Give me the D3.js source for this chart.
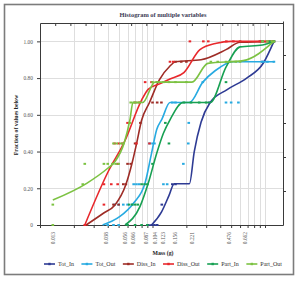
<!DOCTYPE html>
<html>
<head>
<meta charset="utf-8">
<script src="https://cdnjs.cloudflare.com/ajax/libs/d3/7.8.5/d3.min.js"></script>
<style>
  body { margin: 0; background: #fff; }
  text { font-family: 'Liberation Serif', 'DejaVu Serif', serif; }
</style>
</head>
<body>
<div id="chart"></div>
<script>
// -- DATA --

seriesNames = ['Tot_In', 'Tot_Out', 'Diss_In', 'Diss_Out', 'Part_In', 'Part_Out']
massLabels = [0.013, 0.038, 0.056, 0.066, 0.087, 0.104, 0.123, 0.156, 0.221, 0.476, 0.662]
yTicks = [0, 0.2, 0.4, 0.6, 0.8, 1.0]

// smoothed cumulative curves, [mass, fraction]
totInLine = [[0.098,0],[0.12,0.07],[0.14,0.16],[0.156,0.225],[0.19,0.225],[0.213,0.225],[0.235,0.40],[0.27,0.56],[0.325,0.667],[0.457,0.736],[0.687,0.80],[0.967,0.882],[1.2,1.0]]
totOutLine = [[0.036,0],[0.051,0.045],[0.068,0.12],[0.086,0.23],[0.098,0.39],[0.109,0.52],[0.121,0.575],[0.143,0.667],[0.213,0.667],[0.28,0.778],[0.36,0.84],[0.52,0.889],[1.2,0.889]]
dissInLine = [[0.0257,0],[0.0366,0.064],[0.0464,0.109],[0.058,0.22],[0.066,0.34],[0.072,0.44],[0.08,0.57],[0.094,0.667],[0.115,0.79],[0.143,0.866],[0.16,0.889],[0.27,0.9],[0.45,0.955],[0.6,0.995],[1.2,1.0]]
dissOutLine = [[0.025,0],[0.04,0.286],[0.057,0.46],[0.08,0.68],[0.092,0.74],[0.117,0.77],[0.143,0.795],[0.19,0.83],[0.264,0.955],[0.37,0.99],[0.5,1.0],[1.2,1.0]]
partInLine = [[0.057,0],[0.0773,0.1],[0.0916,0.227],[0.109,0.391],[0.125,0.5],[0.143,0.573],[0.187,0.667],[0.326,0.667],[0.45,0.86],[0.6,0.97],[0.95,0.98],[1.2,1.0]]
partOutLine = [[0.013,0.136],[0.026,0.227],[0.04,0.309],[0.0464,0.345],[0.056,0.446],[0.063,0.573],[0.067,0.667],[0.082,0.667],[0.105,0.778],[0.224,0.778],[0.31,0.88],[0.64,0.895],[1.2,1.0]]

// individual observations, [mass, fraction]
totInDots = [[0.092,0],[0.098,0],[0.104,0],[0.11,0],[0.121,0.111],[0.15,0.222],[0.16,0.222],[0.32,0.667],[0.95,0.889],[1.2,1.0]]
totOutDots = [[0.04,0],[0.045,0],[0.05,0],[0.046,0.111],[0.05,0.111],[0.055,0.111],[0.06,0.111],[0.066,0.111],[0.068,0.222],[0.072,0.222],[0.076,0.222],[0.125,0.222],[0.135,0.222],[0.188,0.333],[0.094,0.444],[0.1,0.444],[0.104,0.444],[0.208,0.444],[0.21,0.556],[0.15,0.667],[0.16,0.667],[0.45,0.667],[0.5,0.667],[0.58,0.667],[0.28,0.778],[0.95,0.889],[1.05,0.889],[1.2,0.889]]
dissInDots = [[0.026,0],[0.045,0.111],[0.05,0.111],[0.055,0.222],[0.058,0.222],[0.06,0.333],[0.064,0.333],[0.07,0.444],[0.078,0.556],[0.1,0.667],[0.11,0.667],[0.12,0.667],[0.11,0.778],[0.16,0.889],[0.18,0.889],[0.2,0.889],[0.6,1.0],[0.9,1.0],[1.2,1.0]]
dissOutDots = [[0.025,0],[0.037,0.111],[0.037,0.222],[0.043,0.222],[0.049,0.222],[0.049,0.333],[0.046,0.444],[0.05,0.444],[0.054,0.444],[0.072,0.444],[0.094,0.444],[0.06,0.556],[0.07,0.667],[0.076,0.667],[0.086,0.778],[0.098,0.778],[0.143,0.889],[0.153,0.889],[0.215,1.0],[0.283,1.0],[0.313,1.0],[0.453,1.0],[0.523,1.0]]
partInDots = [[0.06,0],[0.07,0],[0.08,0],[0.09,0],[0.062,0.111],[0.066,0.111],[0.07,0.111],[0.074,0.111],[0.08,0.222],[0.085,0.222],[0.09,0.222],[0.1,0.333],[0.14,0.444],[0.13,0.556],[0.19,0.667],[0.22,0.667],[0.26,0.667],[0.3,0.667],[0.45,0.778],[0.48,0.889],[0.95,1.0],[1.1,1.0],[1.2,1.0]]
partOutDots = [[0.013,0],[0.013,0.111],[0.024,0.222],[0.025,0.333],[0.037,0.333],[0.04,0.333],[0.044,0.333],[0.047,0.333],[0.05,0.333],[0.045,0.444],[0.048,0.444],[0.052,0.444],[0.055,0.444],[0.063,0.556],[0.064,0.667],[0.068,0.667],[0.072,0.667],[0.077,0.667],[0.1,0.778],[0.11,0.778],[0.125,0.778],[0.14,0.778],[0.16,0.778],[0.2,0.778],[0.33,0.889],[0.38,0.889],[0.45,0.889],[0.55,0.889],[0.6,0.889],[0.95,1.0],[1.05,1.0],[1.15,1.0],[1.2,1.0]]

lines = [totInLine, totOutLine, dissInLine, dissOutLine, partInLine, partOutLine]
dots = [totInDots, totOutDots, dissInDots, dissOutDots, partInDots, partOutDots]

// -- GLOBAL --

width = 300
height = 281
margin = {left:40, right:17, top:23, bottom:56}
colors = ['#2e3b94', '#27aae1', '#9e2c26', '#e8282c', '#17a052', '#7cc242']
axisColor = '#3a3a3a'
gridColor = '#dedede'

var svg = d3.select('#chart').append('svg')
  .attr('width', width)
  .attr('height', height)

// outer frame
svg.append('rect')
  .attr('x', 4.5)
  .attr('y', 4.5)
  .attr('width', 289)
  .attr('height', 270)
  .style('fill', 'none')
  .style('stroke', '#7c7c7c')
  .style('stroke-width', '1.6px')

var xMap = d3.scaleLog()
  .domain([0.01, 1.445])
  .range([margin.left, width - margin.right])

var yMap = d3.scaleLinear()
  .domain([0, 1.1])
  .range([height - margin.bottom, margin.top])

// log minor ticks 0.01 .. 1
minorTicks = d3.range(1, 10).map(d => d / 100)
  .concat(d3.range(1, 10).map(d => d / 10), [1])

// -- GRID --
var gGrid = svg.append('g')

gGrid.selectAll('.vgrid')
  .data(minorTicks.slice(1))
  .enter().append('line')
    .attr('x1', d => Math.round(xMap(d)) + 0.5)
    .attr('x2', d => Math.round(xMap(d)) + 0.5)
    .attr('y1', yMap.range()[1])
    .attr('y2', yMap.range()[0])
    .style('stroke', gridColor)
    .style('stroke-width', '1px')

gGrid.selectAll('.hgrid')
  .data(yTicks.slice(1))
  .enter().append('line')
    .attr('x1', xMap.range()[0])
    .attr('x2', xMap.range()[1])
    .attr('y1', d => Math.round(yMap(d)) + 0.5)
    .attr('y2', d => Math.round(yMap(d)) + 0.5)
    .style('stroke', gridColor)
    .style('stroke-width', '1px')

// -- AXES --
var xAxis = d3.axisBottom(xMap)
  .tickValues(minorTicks)
  .tickSize(3)
  .tickSizeOuter(0)
  .tickFormat('')

var xLabelAxis = d3.axisBottom(xMap)
  .tickValues(massLabels)
  .tickSize(0)
  .tickFormat(d3.format('.3f'))

var yAxis = d3.axisLeft(yMap)
  .tickValues(yTicks)
  .tickSize(3)
  .tickSizeOuter(0)
  .tickFormat(d => d === 0 ? '0' : d3.format('.2f')(d))

// secondary axes: ticks only
var topMap = d3.scaleLinear().domain([0, 16]).range(xMap.range())
var rightMap = d3.scaleLinear().domain([0, 6]).range([height - margin.bottom, height - margin.bottom - 6 * 34])

var topAxis = d3.axisTop(topMap)
  .tickValues(d3.range(1, 16))
  .tickSize(-3)
  .tickSizeOuter(0)
  .tickFormat('')

var rightAxis = d3.axisRight(rightMap)
  .tickValues(d3.range(1, 6))
  .tickSize(3)
  .tickSizeOuter(0)
  .tickFormat('')

gX = svg.append('g')
  .attr('transform', 'translate(0,' + yMap(0) + ')')
  .call(xAxis)

gXL = svg.append('g')
  .attr('transform', 'translate(0,' + (yMap(0) + 7) + ')')
  .call(xLabelAxis)
gXL.select('.domain').remove()
gXL.selectAll('text')
  .attr('transform', 'rotate(-90)')
  .attr('x', 0)
  .attr('y', 0)
  .attr('dy', '0.35em')
  .style('text-anchor', 'end')
  .style('font-size', '5.4px')
  .style('fill', '#555')

gY = svg.append('g')
  .attr('transform', 'translate(' + xMap.range()[0] + ',0)')
  .call(yAxis)
gY.selectAll('text')
  .attr('x', -7)
  .style('font-size', '5.4px')
  .style('fill', '#555')

gTop = svg.append('g')
  .attr('transform', 'translate(0,' + yMap.range()[1] + ')')
  .call(topAxis)

gRight = svg.append('g')
  .attr('transform', 'translate(' + xMap.range()[1] + ',0)')
  .call(rightAxis)

svg.selectAll('.domain, .tick line')
  .style('stroke', axisColor)
  .style('stroke-width', '1px')

// -- SERIES --
var line = d3.line()
  .x(d => xMap(d[0]))
  .y(d => yMap(d[1]))
  .curve(d3.curveMonotoneX)

var gSeries = svg.append('g')

seriesNames.forEach(function(name, i) {
  var g = gSeries.append('g')

  g.selectAll('rect')
    .data(dots[i])
    .enter().append('rect')
      .attr('x', d => xMap(d[0]) - 1.3)
      .attr('y', d => yMap(d[1]) - 1)
      .attr('width', 2.6)
      .attr('height', 2)
      .style('fill', colors[i])

  g.append('path')
    .datum(lines[i])
    .attr('d', line)
    .style('fill', 'none')
    .style('stroke', colors[i])
    .style('stroke-width', '1.6px')
})

// -- TEXTS --
svg.append('text')
  .attr('x', 163)
  .attr('y', 17)
  .style('font-weight', '700')
  .style('font-size', '6.4px')
  .style('fill', '#3b3a55')
  .style('text-anchor', 'middle')
  .text('Histogram of multiple variables')

svg.append('text')
  .attr('transform', 'translate(18,125) rotate(-90)')
  .style('font-weight', '700')
  .style('font-size', '5.8px')
  .style('fill', '#222')
  .style('text-anchor', 'middle')
  .text('Fraction of values below')

svg.append('text')
  .attr('x', 163)
  .attr('y', 255)
  .style('font-weight', '700')
  .style('font-size', '5.8px')
  .style('fill', '#222')
  .style('text-anchor', 'middle')
  .text('Mass (g)')

// -- LEGEND --
var gLegend = svg.append('g')
  .attr('transform', 'translate(44,264)')
var xPos = 0
seriesNames.forEach(function(name, i) {
  var item = gLegend.append('g')
    .attr('transform', 'translate(' + xPos + ',0)')
  item.append('line')
    .attr('x1', 0)
    .attr('x2', 11)
    .attr('y1', 0)
    .attr('y2', 0)
    .style('stroke', colors[i])
    .style('stroke-width', '1.6px')
  item.append('rect')
    .attr('x', 4.3)
    .attr('y', -1.2)
    .attr('width', 2.4)
    .attr('height', 2.4)
    .style('fill', colors[i])
  var t = item.append('text')
    .attr('x', 14)
    .attr('dy', '0.35em')
    .style('font-size', '6px')
    .style('fill', '#333')
    .text(name)
  xPos += 14 + t.node().getComputedTextLength() + 7.5
})
</script>
</body>
</html>
